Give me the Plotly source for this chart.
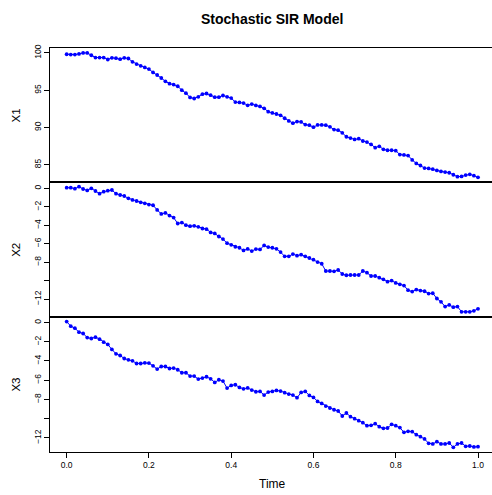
import plotly.graph_objects as go

# ---- data ----
time = [round(i * 0.01, 2) for i in range(101)]

x1 = [99.82, 99.78, 99.78, 99.87, 100.0, 100.0, 99.69, 99.38, 99.38, 99.38,
      99.12, 99.34, 99.29, 99.16, 99.34, 99.25, 98.81, 98.5, 98.27, 98.05,
      97.83, 97.39, 97.04, 96.64, 96.19, 95.88, 95.75, 95.53, 95.0, 94.6,
      94.03, 93.89, 94.12, 94.47, 94.56, 94.34, 94.07, 94.07, 94.29, 94.12,
      93.94, 93.41, 93.36, 93.27, 92.98, 93.14, 92.96, 92.83, 92.57, 92.12,
      91.95, 91.81, 91.64, 91.24, 90.88, 90.58, 90.8, 90.75, 90.4, 90.31,
      90.04, 90.35, 90.35, 90.31, 90.09, 89.73, 89.65, 89.29, 88.76, 88.58,
      88.41, 88.5, 88.19, 88.05, 87.74, 87.3, 87.48, 87.08, 86.95, 86.95,
      86.9, 86.37, 86.33, 86.24, 85.66, 85.18, 84.91, 84.56, 84.51, 84.42,
      84.25, 84.12, 84.03, 83.94, 83.67, 83.41, 83.45, 83.63, 83.72, 83.54,
      83.32]

x2 = [0.07, 0.07, -0.04, 0.18, -0.07, -0.22, 0.0, -0.29, -0.58, -0.36,
      -0.25, -0.18, -0.58, -0.72, -0.83, -1.08, -1.26, -1.37, -1.51, -1.62,
      -1.76, -1.83, -2.34, -2.77, -2.66, -2.95, -3.17, -3.81, -3.71, -3.99,
      -4.1, -4.06, -4.17, -4.35, -4.42, -4.78, -4.89, -5.22, -5.5, -5.94,
      -6.12, -6.33, -6.44, -6.73, -6.56, -6.8, -6.58, -6.62, -6.19, -6.37,
      -6.44, -6.55, -6.91, -7.37, -7.37, -7.12, -7.3, -7.19, -7.37, -7.55,
      -7.73, -7.99, -8.17, -8.96, -8.96, -8.99, -8.85, -9.28, -9.42, -9.39,
      -9.39, -9.39, -8.96, -9.14, -9.5, -9.5, -9.68, -9.86, -10.11, -10.0,
      -10.25, -10.4, -10.54, -11.04, -11.19, -10.97, -11.08, -11.15, -11.4, -11.37,
      -11.94, -12.3, -12.81, -12.63, -12.88, -12.81, -13.38, -13.38, -13.38, -13.27,
      -13.06]

x3 = [0.1, -0.38, -0.59, -1.0, -1.14, -1.56, -1.66, -1.52, -1.73, -2.04,
      -2.28, -2.8, -3.25, -3.43, -3.74, -3.88, -3.98, -4.26, -4.26, -4.19,
      -4.22, -4.5, -4.84, -4.57, -4.57, -4.78, -4.74, -4.91, -5.22, -5.22,
      -5.57, -5.57, -5.88, -5.78, -5.64, -5.85, -6.23, -5.95, -6.09, -6.82,
      -6.54, -6.47, -6.75, -6.89, -6.8, -7.02, -7.2, -7.16, -7.54, -7.23,
      -7.16, -7.06, -7.13, -7.3, -7.44, -7.54, -7.82, -7.27, -7.16, -7.58,
      -7.79, -8.2, -8.41, -8.69, -8.89, -9.07, -9.2, -9.72, -9.41, -9.79,
      -10.0, -10.21, -10.42, -10.73, -10.69, -10.52, -10.83, -11.0, -10.97, -10.59,
      -10.73, -10.93, -11.42, -11.31, -11.35, -11.66, -11.87, -12.11, -12.56, -12.63,
      -12.39, -12.63, -12.63, -12.53, -12.98, -12.63, -12.53, -12.87, -12.84, -12.94,
      -12.91]

series_names = ["X1", "X2", "X3"]
x_tick_vals = [0.0, 0.2, 0.4, 0.6, 0.8, 1.0]
x_tick_text = ["0.0", "0.2", "0.4", "0.6", "0.8", "1.0"]
y1_tick_vals = [85, 90, 95, 100]
y1_tick_text = ["85", "90", "95", "100"]
y23_tick_vals = [0, -2, -4, -6, -8, -10, -12]
y23_tick_text = ["0", "\u22122", "\u22124", "\u22126", "\u22128", "", "\u221212"]

W, H = 492, 495
FONT = "Liberation Sans, Arial, Helvetica, sans-serif"
BLUE = "#0000FF"

fig = go.Figure()
for k, ys in enumerate([x1, x2, x3]):
    sfx = "" if k == 0 else str(k + 1)
    fig.add_trace(go.Scatter(
        x=time, y=ys, mode="lines+markers",
        line=dict(color=BLUE, width=1),
        marker=dict(color=BLUE, size=3.8, line=dict(width=0)),
        xaxis="x" + sfx, yaxis="y" + sfx, showlegend=False,
        hoverinfo="x+y", name=series_names[k]))

# panel geometry in pixels (top, bottom)
panels = [(44.8, 179.8), (179.8, 315.8), (315.8, 451.5)]
yranges = [[82.65, 100.6], [-13.97, 0.65], [-13.45, 0.55]]
xdom = [50 / W, 1.0]
xrange_ = [-0.0405, 1.034]

axis_common = dict(showgrid=False, zeroline=False, linecolor="black", linewidth=1,
                   ticks="outside", ticklen=5, tickwidth=1, tickcolor="black",
                   tickfont=dict(family=FONT, size=8.5, color="black"))

layout = dict(width=W, height=H, autosize=False,
              margin=dict(l=0, r=0, t=0, b=0),
              paper_bgcolor="white", plot_bgcolor="white",
              font=dict(family=FONT, color="black"))

for k in range(3):
    sfx = "" if k == 0 else str(k + 1)
    top, bot = panels[k]
    ydom = [1 - bot / H, 1 - top / H]
    xa = dict(axis_common, domain=xdom, range=xrange_, anchor="y" + sfx,
              showline=True, mirror=True)
    if k == 2:
        xa.update(tickmode="array", tickvals=x_tick_vals, ticktext=x_tick_text)
    else:
        xa.update(showticklabels=False, ticks="")
    if k > 0:
        xa["matches"] = "x"
    ya = dict(axis_common, domain=ydom, range=yranges[k], anchor="x" + sfx,
              showline=True, mirror=False, tickangle=-90, tickmode="array")
    if k == 0:
        ya.update(tickvals=y1_tick_vals, ticktext=y1_tick_text)
    else:
        ya.update(tickvals=y23_tick_vals, ticktext=y23_tick_text)
    layout["xaxis" + sfx] = xa
    layout["yaxis" + sfx] = ya

annotations = [
    dict(text="<b>Stochastic SIR Model</b>", x=272 / W, y=1 - 15 / H,
         xref="paper", yref="paper", showarrow=False, xanchor="center", yanchor="middle",
         font=dict(family=FONT, size=14, color="black")),
    dict(text="Time", x=272.7 / W, y=1 - 484 / H,
         xref="paper", yref="paper", showarrow=False, xanchor="center", yanchor="middle",
         font=dict(family=FONT, size=12, color="black")),
]
for k in range(3):
    top, bot = panels[k]
    annotations.append(dict(text=series_names[k], x=16 / W, y=1 - (top + bot) / 2 / H,
                            xref="paper", yref="paper", showarrow=False, textangle=-90,
                            xanchor="center", yanchor="middle",
                            font=dict(family=FONT, size=11.5, color="black")))
layout["annotations"] = annotations

fig.update_layout(**layout)

post = ("document.body.style.margin='0';"
        "var gd=document.getElementById('{plot_id}');"
        "gd.style.position='absolute';gd.style.left='0px';gd.style.top='0px';")
fig.write_html("out.html", post_script=post, config={"displayModeBar": False})
